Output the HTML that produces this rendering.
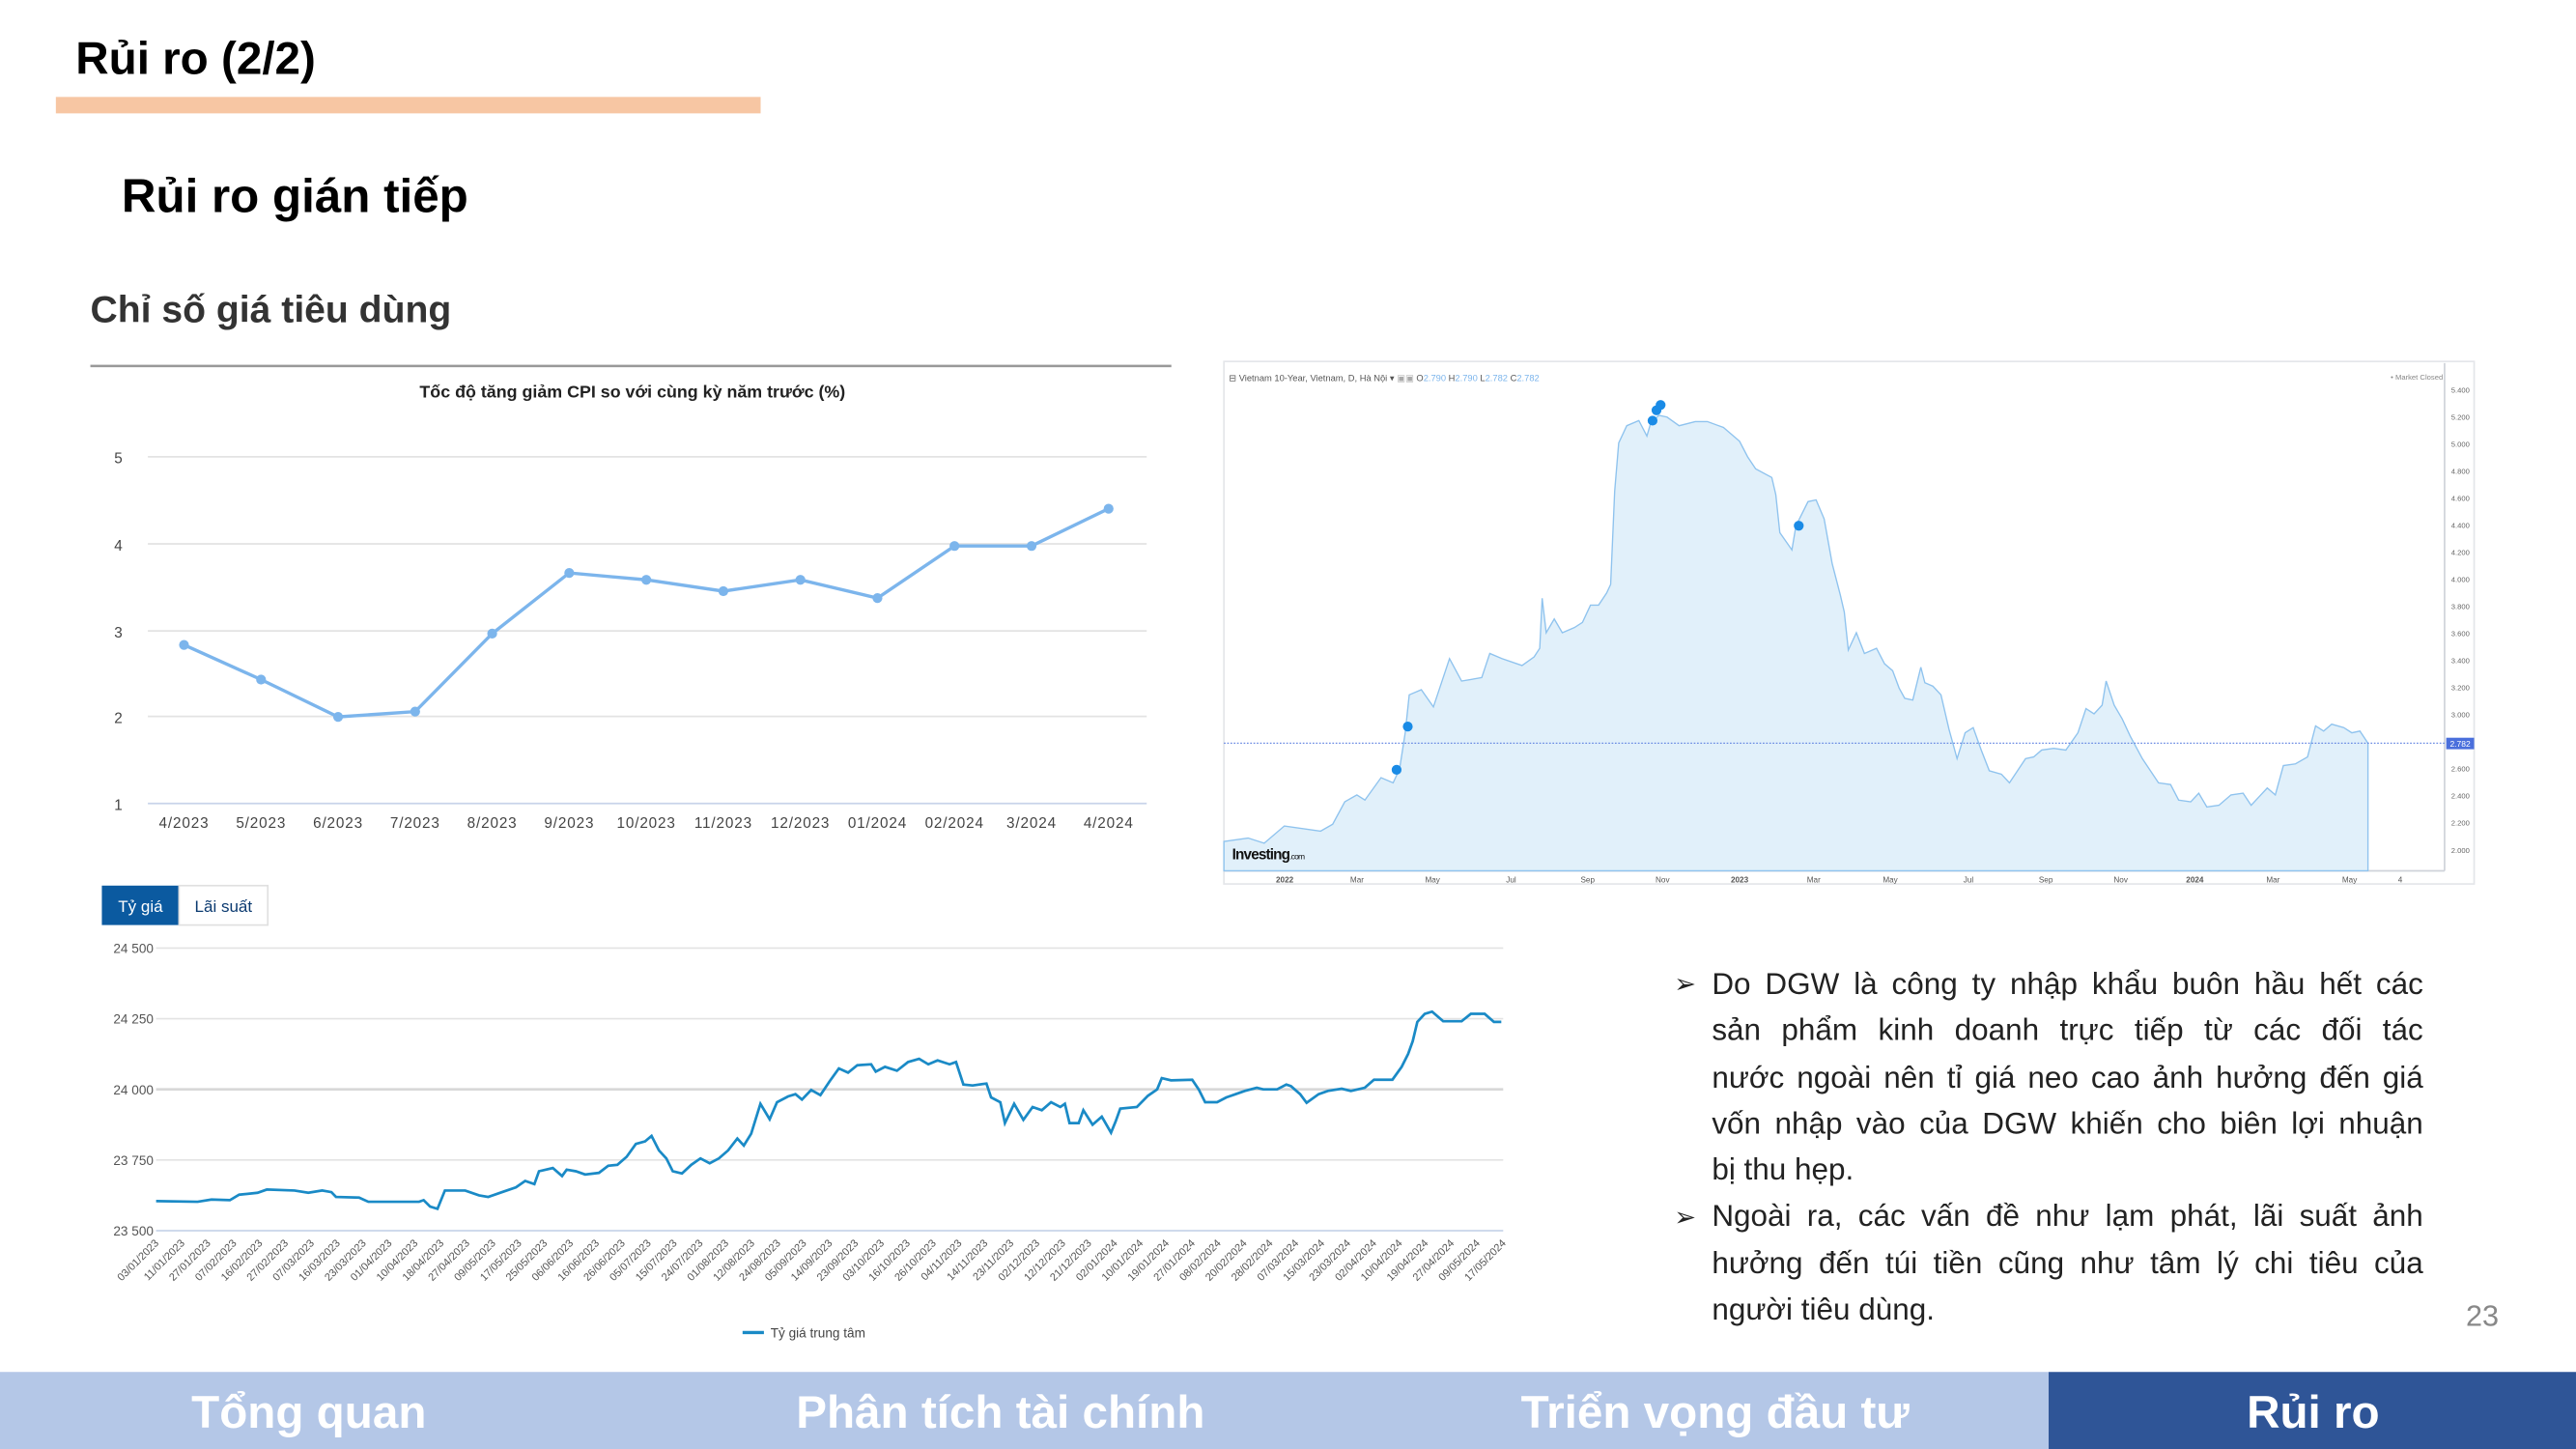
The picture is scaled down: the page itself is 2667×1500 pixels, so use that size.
<!DOCTYPE html>
<html><head><meta charset="utf-8"><style>
html,body{margin:0;padding:0;background:#fff;width:2667px;height:1500px;overflow:hidden}
#w{position:absolute;left:0;top:0;width:1568px;height:882px;transform:scale(1.70089);transform-origin:0 0;font-family:"Liberation Sans","DejaVu Sans",sans-serif}
svg{position:absolute;left:0;top:0}
.p{position:absolute;left:1042px;width:433px;font-size:18.5px;line-height:28.3px;color:#222}
.p div{text-align:justify;text-align-last:justify;white-space:nowrap;height:28.3px}
.p div.l{text-align-last:left}
.ar{position:absolute;left:1019px;font-size:16px;color:#222}
</style></head><body><div id="w">
<svg width="1568" height="882" viewBox="0 0 1568 882" font-family="Liberation Sans, DejaVu Sans, sans-serif">
<text x="46" y="45" font-size="28" font-weight="bold" fill="#000">Rủi ro (2/2)</text>
<rect x="34" y="59" width="429" height="10" fill="#f7c6a3"/>
<text x="74" y="129" font-size="29" font-weight="bold" fill="#000">Rủi ro gián tiếp</text>
<text x="55" y="196" font-size="23" font-weight="bold" fill="#333">Chỉ số giá tiêu dùng</text>
<rect x="55" y="222" width="658" height="1.5" fill="#999"/>
<!-- CPI chart -->
<text x="385" y="242" font-size="10.5" font-weight="bold" text-anchor="middle" fill="#222">Tốc độ tăng giảm CPI so với cùng kỳ năm trước (%)</text>
<g stroke="#e3e3e3" stroke-width="1"><line x1="90" y1="278" x2="698" y2="278"/><line x1="90" y1="331" x2="698" y2="331"/><line x1="90" y1="384" x2="698" y2="384"/><line x1="90" y1="436" x2="698" y2="436"/></g>
<line x1="90" y1="489" x2="698" y2="489" stroke="#c8d4ea"/>
<g font-size="9" fill="#444" text-anchor="middle"><text x="72" y="282">5</text><text x="72" y="335">4</text><text x="72" y="388">3</text><text x="72" y="440">2</text><text x="72" y="493">1</text></g>
<polyline fill="none" stroke="#7cb5ec" stroke-width="2" points="112,392.5 158.9,413.6 205.8,436.3 252.7,433.1 299.6,385.6 346.5,348.7 393.4,352.9 440.3,359.8 487.2,352.9 534.1,364 581,332.3 627.9,332.3 674.8,309.6"/>
<g fill="#7cb5ec"><circle cx="112" cy="392.5" r="3"/><circle cx="158.9" cy="413.6" r="3"/><circle cx="205.8" cy="436.3" r="3"/><circle cx="252.7" cy="433.1" r="3"/><circle cx="299.6" cy="385.6" r="3"/><circle cx="346.5" cy="348.7" r="3"/><circle cx="393.4" cy="352.9" r="3"/><circle cx="440.3" cy="359.8" r="3"/><circle cx="487.2" cy="352.9" r="3"/><circle cx="534.1" cy="364" r="3"/><circle cx="581" cy="332.3" r="3"/><circle cx="627.9" cy="332.3" r="3"/><circle cx="674.8" cy="309.6" r="3"/></g>
<g font-size="9" fill="#444" text-anchor="middle" letter-spacing="0.5"><text x="112" y="504">4/2023</text><text x="158.9" y="504">5/2023</text><text x="205.8" y="504">6/2023</text><text x="252.7" y="504">7/2023</text><text x="299.6" y="504">8/2023</text><text x="346.5" y="504">9/2023</text><text x="393.4" y="504">10/2023</text><text x="440.3" y="504">11/2023</text><text x="487.2" y="504">12/2023</text><text x="534.1" y="504">01/2024</text><text x="581" y="504">02/2024</text><text x="627.9" y="504">3/2024</text><text x="674.8" y="504">4/2024</text></g>
<!-- Yield chart -->
<rect x="745" y="220" width="761" height="318" fill="#fff" stroke="#e4e6ea"/>
<line x1="1488" y1="221" x2="1488" y2="530" stroke="#cfd3da"/>
<line x1="745" y1="530" x2="1488" y2="530" stroke="#cfd3da"/>
<g transform="matrix(0.4904 0 0 0.21 740.1 217.1)">
<path fill="#e1f0fa" stroke="#8fc3ee" stroke-width="0.8" vector-effect="non-scaling-stroke" d="M10,1405 L40,1395 60,1410 85,1360 130,1375 145,1355 160,1290 175,1270 185,1285 205,1220 220,1235 228,1195 235,1090 240,980 255,965 270,1015 280,945 290,875 305,940 330,930 340,860 355,875 380,895 395,870 402,845 405,700 410,800 420,760 430,800 445,785 455,770 465,720 475,720 485,685 490,660 495,390 500,250 510,200 525,185 535,230 540,190 550,170 560,175 575,200 595,188 610,188 630,205 650,245 660,290 670,325 690,350 695,400 700,510 715,560 720,490 735,420 745,415 755,470 765,600 775,690 780,740 785,850 795,800 805,860 820,845 830,890 840,910 848,960 855,990 865,995 875,900 880,945 890,955 900,980 910,1080 920,1165 930,1090 940,1075 950,1140 960,1200 975,1210 985,1235 995,1200 1005,1165 1015,1160 1025,1140 1040,1135 1055,1140 1070,1090 1080,1020 1090,1035 1100,1010 1105,940 1115,1010 1125,1050 1135,1100 1150,1165 1160,1200 1170,1235 1185,1240 1195,1285 1210,1290 1220,1265 1230,1305 1245,1300 1260,1270 1275,1265 1285,1300 1295,1275 1305,1250 1315,1270 1325,1185 1340,1180 1355,1160 1365,1070 1375,1085 1385,1065 1400,1075 1410,1090 1420,1085 1430,1120 L1430,1490 L10,1490 Z"/>
</g>
<line x1="745" y1="452.3" x2="1488" y2="452.3" stroke="#5b7fe0" stroke-width="0.7" stroke-dasharray="1,1"/>
<rect x="1489" y="449" width="17" height="7" fill="#4a6fdc"/><text x="1497.5" y="454.5" font-size="5" fill="#fff" text-anchor="middle">2.782</text>
<g fill="#1a8be6"><circle cx="856.9" cy="442.2" r="3"/><circle cx="850.1" cy="468.5" r="3"/><circle cx="1005.9" cy="256" r="3"/><circle cx="1008.3" cy="249.7" r="3"/><circle cx="1010.8" cy="246.5" r="3"/><circle cx="1094.9" cy="320" r="3"/></g>
<g font-size="4.5" fill="#666"><text x="1492" y="239">5.400</text><text x="1492" y="255.5">5.200</text><text x="1492" y="272">5.000</text><text x="1492" y="288.4">4.800</text><text x="1492" y="304.9">4.600</text><text x="1492" y="321.4">4.400</text><text x="1492" y="337.8">4.200</text><text x="1492" y="354.3">4.000</text><text x="1492" y="370.8">3.800</text><text x="1492" y="387.2">3.600</text><text x="1492" y="403.7">3.400</text><text x="1492" y="420.2">3.200</text><text x="1492" y="436.6">3.000</text><text x="1492" y="469.6">2.600</text><text x="1492" y="486">2.400</text><text x="1492" y="502.5">2.200</text><text x="1492" y="519">2.000</text></g>
<g font-size="4.8" fill="#555" text-anchor="middle"><text x="782" y="537" font-weight="bold">2022</text><text x="826" y="537">Mar</text><text x="872" y="537">May</text><text x="919.8" y="537">Jul</text><text x="966.4" y="537">Sep</text><text x="1012" y="537">Nov</text><text x="1058.9" y="537" font-weight="bold">2023</text><text x="1104" y="537">Mar</text><text x="1150.6" y="537">May</text><text x="1198.2" y="537">Jul</text><text x="1245.3" y="537">Sep</text><text x="1290.9" y="537">Nov</text><text x="1336" y="537" font-weight="bold">2024</text><text x="1383.6" y="537">Mar</text><text x="1430.2" y="537">May</text><text x="1461" y="537">4</text></g>
<text x="748" y="232" font-size="5.5" fill="#555">⊟ Vietnam 10-Year, Vietnam, D, Hà Nội ▾ <tspan fill="#aaa">▣▣</tspan> O<tspan fill="#7cb5ec">2.790</tspan> H<tspan fill="#7cb5ec">2.790</tspan> L<tspan fill="#7cb5ec">2.782</tspan> C<tspan fill="#7cb5ec">2.782</tspan></text>
<text x="1487" y="231" font-size="4.5" fill="#888" text-anchor="end">• Market Closed</text>
<text x="750" y="523" font-size="9" font-weight="bold" fill="#111" letter-spacing="-0.5">Investing<tspan font-size="5" font-weight="normal">.com</tspan></text>
<!-- Exchange chart -->
<rect x="62" y="539" width="47" height="24" fill="#0b5aa0"/>
<rect x="109" y="539" width="54" height="24" fill="#fff" stroke="#e0e0e0"/>
<text x="85.5" y="555" font-size="10" fill="#fff" text-anchor="middle">Tỷ giá</text>
<text x="136" y="555" font-size="10" fill="#0b3a70" text-anchor="middle">Lãi suất</text>
<g stroke="#e3e3e3"><line x1="95" y1="577" x2="915" y2="577"/><line x1="95" y1="620" x2="915" y2="620"/><line x1="95" y1="663" x2="915" y2="663" stroke="#d8d8d8" stroke-width="1.5"/><line x1="95" y1="706" x2="915" y2="706"/></g>
<line x1="95" y1="749" x2="915" y2="749" stroke="#c8d4ea"/>
<g font-size="8" fill="#555"><text x="69" y="580">24 500</text><text x="69" y="623">24 250</text><text x="69" y="666">24 000</text><text x="69" y="709">23 750</text><text x="69" y="752">23 500</text></g>
<g transform="matrix(0.5616 0 0 0.1955 52.9 528.1)">
<polyline fill="none" stroke="#1a8ac6" stroke-width="1.6" vector-effect="non-scaling-stroke" points="75,1038 120,1040 135,1033 155,1035 165,1018 185,1012 195,1002 225,1005 240,1012 255,1005 265,1010 270,1025 295,1027 305,1040 360,1040 365,1035 372,1055 380,1062 388,1005 400,1005 410,1005 425,1020 435,1025 450,1010 465,995 475,975 485,985 490,945 505,935 515,960 520,940 530,945 540,955 555,950 565,928 575,925 585,900 595,860 605,852 612,835 620,880 628,905 635,945 645,952 655,925 665,905 675,920 685,905 695,880 705,843 712,865 720,828 730,735 740,783 748,730 760,712 768,705 775,722 785,692 795,708 805,665 815,625 825,638 835,615 850,612 855,635 865,620 878,632 890,605 902,595 912,612 922,600 935,612 942,605 950,675 960,678 975,672 980,715 990,730 995,795 1005,735 1015,785 1025,745 1035,755 1045,730 1055,745 1060,735 1065,795 1075,795 1080,755 1090,800 1100,775 1110,825 1115,790 1120,750 1138,745 1150,710 1160,690 1165,655 1175,662 1198,660 1205,690 1212,730 1225,730 1235,715 1245,705 1255,695 1268,685 1275,690 1290,690 1300,675 1305,680 1315,705 1322,732 1335,705 1345,695 1360,688 1370,695 1385,685 1395,660 1415,660 1425,620 1432,580 1437,540 1442,480 1450,455 1458,448 1470,478 1490,478 1500,455 1515,455 1525,480 1533,480"/>
</g>
<g font-size="6.5" fill="#555" text-anchor="end">
<text transform="translate(97,757) rotate(-45)">03/01/2023</text><text transform="translate(112.8,757) rotate(-45)">11/01/2023</text><text transform="translate(128.5,757) rotate(-45)">27/01/2023</text><text transform="translate(144.3,757) rotate(-45)">07/02/2023</text><text transform="translate(160.1,757) rotate(-45)">16/02/2023</text><text transform="translate(175.8,757) rotate(-45)">27/02/2023</text><text transform="translate(191.6,757) rotate(-45)">07/03/2023</text><text transform="translate(207.4,757) rotate(-45)">16/03/2023</text><text transform="translate(223.2,757) rotate(-45)">23/03/2023</text><text transform="translate(238.9,757) rotate(-45)">01/04/2023</text><text transform="translate(254.7,757) rotate(-45)">10/04/2023</text><text transform="translate(270.5,757) rotate(-45)">18/04/2023</text><text transform="translate(286.2,757) rotate(-45)">27/04/2023</text><text transform="translate(302,757) rotate(-45)">09/05/2023</text><text transform="translate(317.8,757) rotate(-45)">17/05/2023</text><text transform="translate(333.5,757) rotate(-45)">25/05/2023</text><text transform="translate(349.3,757) rotate(-45)">06/06/2023</text><text transform="translate(365.1,757) rotate(-45)">16/06/2023</text><text transform="translate(380.8,757) rotate(-45)">26/06/2023</text><text transform="translate(396.6,757) rotate(-45)">05/07/2023</text><text transform="translate(412.4,757) rotate(-45)">15/07/2023</text><text transform="translate(428.2,757) rotate(-45)">24/07/2023</text><text transform="translate(443.9,757) rotate(-45)">01/08/2023</text><text transform="translate(459.7,757) rotate(-45)">12/08/2023</text><text transform="translate(475.5,757) rotate(-45)">24/08/2023</text><text transform="translate(491.2,757) rotate(-45)">05/09/2023</text><text transform="translate(507,757) rotate(-45)">14/09/2023</text><text transform="translate(522.8,757) rotate(-45)">23/09/2023</text><text transform="translate(538.5,757) rotate(-45)">03/10/2023</text><text transform="translate(554.3,757) rotate(-45)">16/10/2023</text><text transform="translate(570.1,757) rotate(-45)">26/10/2023</text><text transform="translate(585.8,757) rotate(-45)">04/11/2023</text><text transform="translate(601.6,757) rotate(-45)">14/11/2023</text><text transform="translate(617.4,757) rotate(-45)">23/11/2023</text><text transform="translate(633.2,757) rotate(-45)">02/12/2023</text><text transform="translate(648.9,757) rotate(-45)">12/12/2023</text><text transform="translate(664.7,757) rotate(-45)">21/12/2023</text><text transform="translate(680.5,757) rotate(-45)">02/01/2024</text><text transform="translate(696.2,757) rotate(-45)">10/01/2024</text><text transform="translate(712,757) rotate(-45)">19/01/2024</text><text transform="translate(727.8,757) rotate(-45)">27/01/2024</text><text transform="translate(743.5,757) rotate(-45)">08/02/2024</text><text transform="translate(759.3,757) rotate(-45)">20/02/2024</text><text transform="translate(775.1,757) rotate(-45)">28/02/2024</text><text transform="translate(790.8,757) rotate(-45)">07/03/2024</text><text transform="translate(806.6,757) rotate(-45)">15/03/2024</text><text transform="translate(822.4,757) rotate(-45)">23/03/2024</text><text transform="translate(838.2,757) rotate(-45)">02/04/2024</text><text transform="translate(853.9,757) rotate(-45)">10/04/2024</text><text transform="translate(869.7,757) rotate(-45)">19/04/2024</text><text transform="translate(885.5,757) rotate(-45)">27/04/2024</text><text transform="translate(901.2,757) rotate(-45)">09/05/2024</text><text transform="translate(917,757) rotate(-45)">17/05/2024</text>
</g>
<line x1="452" y1="811" x2="465" y2="811" stroke="#1a8ac6" stroke-width="2"/>
<text x="469" y="814" font-size="8" fill="#444">Tỷ giá trung tâm</text>
<text x="1521" y="807" font-size="18" fill="#888" text-anchor="end">23</text>
<!-- Footer -->
<rect x="0" y="835" width="1247" height="47" fill="#b4c7e7"/>
<rect x="1247" y="835" width="321" height="47" fill="#2f5597"/>
<g font-size="28" font-weight="bold" fill="#fff" text-anchor="middle"><text x="188" y="869">Tổng quan</text><text x="609" y="869">Phân tích tài chính</text><text x="1044" y="869">Triển vọng đầu tư</text><text x="1408" y="869">Rủi ro</text></g>
</svg>
<div class="ar" style="top:589px">➢</div>
<div class="ar" style="top:731px">➢</div>
<div class="p" style="top:585px">
<div>Do DGW là công ty nhập khẩu buôn hầu hết các</div>
<div>sản phẩm kinh doanh trực tiếp từ các đối tác</div>
<div>nước ngoài nên tỉ giá neo cao ảnh hưởng đến giá</div>
<div>vốn nhập vào của DGW khiến cho biên lợi nhuận</div>
<div class="l">bị thu hẹp.</div>
<div>Ngoài ra, các vấn đề như lạm phát, lãi suất ảnh</div>
<div>hưởng đến túi tiền cũng như tâm lý chi tiêu của</div>
<div class="l">người tiêu dùng.</div>
</div>
</div></body></html>
